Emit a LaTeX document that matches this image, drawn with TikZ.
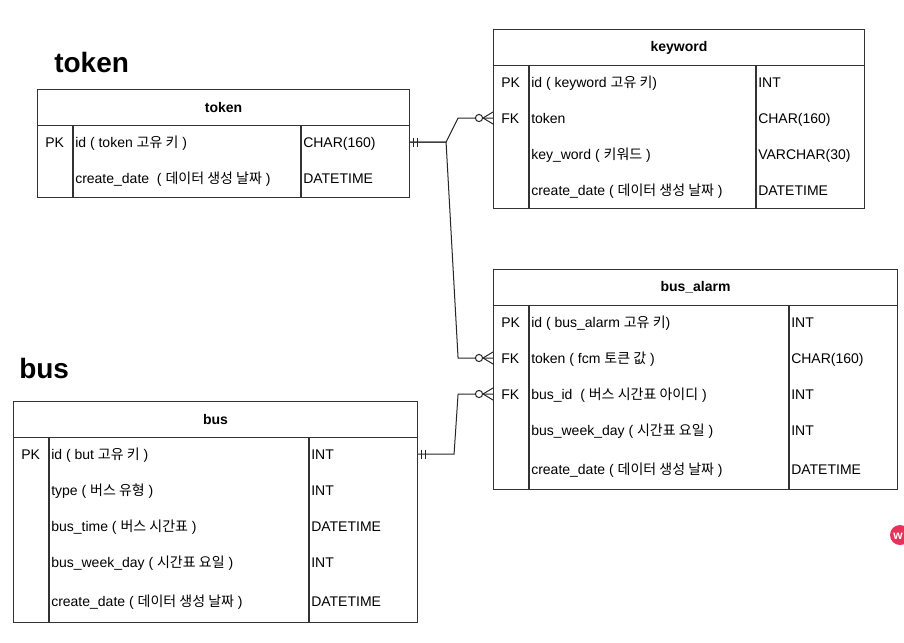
\documentclass[tikz,border=0pt]{standalone}
\usepackage{fontspec}
\setmainfont{Liberation Sans}
\newfontfamily\kr{Noto Sans CJK KR}
\definecolor{badgepink}{RGB}{232,49,91}
\tikzset{
  every node/.style={inner sep=0pt},
  cell/.style={anchor=west, text height=9pt, text depth=1.5pt,
    font=\fontsize{10.5}{12}\selectfont},
  tabhead/.style={draw=black!80, line width=0.8pt, anchor=north west,
    font=\fontsize{10.5}{12}\selectfont\bfseries},
  tabbody/.style={draw=black!80, line width=0.8pt, anchor=north west},
  colline/.style={draw=black!80, line width=0.8pt},
  title/.style={anchor=west, font=\fontsize{21}{24}\selectfont\bfseries},
  rel/.style={draw=black!85, line width=0.75pt},
  onemark/.pic={\draw[rel] (3,-4.5) -- (3,4.5) (7,-4.5) -- (7,4.5);},
  zeromany/.pic={\draw[rel] (-10,0) -- (0,-6) (-10,0) -- (0,6);
    \draw[rel, fill=white] (-14,0) circle[radius=2.7pt];}
}

\begin{document}
\begin{tikzpicture}[x=0.75pt, y=-0.75pt]
  \useasboundingbox (0,0) rectangle (904,643);
  \clip (0,0) rectangle (904,643);

  % token
  \node[title] (tokentitle) at (54,62) {token};
  \node[tabhead, minimum width=279pt, minimum height=27pt] (tokenhead) at (37,89) {token};
  \node[tabbody, minimum width=279pt, minimum height=54pt] (tokenbody) at (37,125) {};
  \draw[colline] (73,125) -- (73,197) (301,125) -- (301,197);
  \node[cell] (tokpk) at (45,142) {PK};
  \node[cell] (tokid) at (75,142) {id ( token {\kr 고유 키} )};
  \node[cell] (tokidtype) at (303,142) {CHAR(160)};
  \node[cell] (tokdate) at (75,178) {create\_date~ ( {\kr 데이터 생성 날짜} )};
  \node[cell] (tokdatetype) at (303,178) {DATETIME};

  % keyword
  \node[tabhead, minimum width=278.25pt, minimum height=27pt] (kwhead) at (493,29) {keyword};
  \node[tabbody, minimum width=278.25pt, minimum height=107.25pt] (kwbody) at (493,65) {};
  \draw[colline] (529,65) -- (529,208) (756,65) -- (756,208);
  \node[cell] (kwpk) at (501,82) {PK};
  \node[cell] (kwid) at (531,82) {id ( keyword {\kr 고유 키})};
  \node[cell] (kwidtype) at (758,82) {INT};
  \node[cell] (kwfk) at (501,118) {FK};
  \node[cell] (kwtoken) at (531,118) {token};
  \node[cell] (kwtokentype) at (758,118) {CHAR(160)};
  \node[cell] (kwword) at (531,154) {key\_word ( {\kr 키워드} )};
  \node[cell] (kwwordtype) at (758,154) {VARCHAR(30)};
  \node[cell] (kwdate) at (531,190) {create\_date ( {\kr 데이터 생성 날짜} )};
  \node[cell] (kwdatetype) at (758,190) {DATETIME};

  % bus_alarm
  \node[tabhead, minimum width=303pt, minimum height=27pt] (bahead) at (493,269) {bus\_alarm};
  \node[tabbody, minimum width=303pt, minimum height=138pt] (babody) at (493,305) {};
  \draw[colline] (529,305) -- (529,489) (789,305) -- (789,489);
  \node[cell] (bapk) at (501,322) {PK};
  \node[cell] (baid) at (531,322) {id ( bus\_alarm {\kr 고유 키})};
  \node[cell] (baidtype) at (791,322) {INT};
  \node[cell] (bafk1) at (501,358) {FK};
  \node[cell] (batoken) at (531,358) {token ( fcm {\kr 토큰 값} )};
  \node[cell] (batokentype) at (791,358) {CHAR(160)};
  \node[cell] (bafk2) at (501,394) {FK};
  \node[cell] (babusid) at (531,394) {bus\_id~ ( {\kr 버스 시간표 아이디} )};
  \node[cell] (babusidtype) at (791,394) {INT};
  \node[cell] (baday) at (531,430) {bus\_week\_day ( {\kr 시간표 요일} )};
  \node[cell] (badaytype) at (791,430) {INT};
  \node[cell] (badate) at (531,469) {create\_date ( {\kr 데이터 생성 날짜} )};
  \node[cell] (badatetype) at (791,469) {DATETIME};

  % bus
  \node[title] (bustitle) at (19,368) {bus};
  \node[tabhead, minimum width=303pt, minimum height=27pt] (bushead) at (13,401) {bus};
  \node[tabbody, minimum width=303pt, minimum height=138.75pt] (busbody) at (13,437) {};
  \draw[colline] (49,437) -- (49,622) (309,437) -- (309,622);
  \node[cell] (buspk) at (21,454) {PK};
  \node[cell] (busid) at (51,454) {id ( but {\kr 고유 키} )};
  \node[cell] (busidtype) at (311,454) {INT};
  \node[cell] (bustype) at (51,490) {type ( {\kr 버스 유형} )};
  \node[cell] (bustypetype) at (311,490) {INT};
  \node[cell] (bustime) at (51,526) {bus\_time ( {\kr 버스 시간표} )};
  \node[cell] (bustimetype) at (311,526) {DATETIME};
  \node[cell] (busday) at (51,562) {bus\_week\_day ( {\kr 시간표 요일} )};
  \node[cell] (busdaytype) at (311,562) {INT};
  \node[cell] (busdate) at (51,601) {create\_date ( {\kr 데이터 생성 날짜} )};
  \node[cell] (busdatetype) at (311,601) {DATETIME};

  % relations
  \draw[rel] (tokenbody.east |- tokid) -- ++(36,0) -- ++(12,-24) -- (kwbody.west |- kwtoken);
  \draw[rel] (tokenbody.east |- tokid) -- ++(36,0) -- ++(12,216) -- (babody.west |- batoken);
  \draw[rel] (busbody.east |- busid) -- ++(36,0) -- ++(4,-60) -- (babody.west |- babusid);
  \pic at (tokenbody.east |- tokid) {onemark};
  \pic at (busbody.east |- busid) {onemark};
  \pic at (kwbody.west |- kwtoken) {zeromany};
  \pic at (babody.west |- batoken) {zeromany};
  \pic at (babody.west |- babusid) {zeromany};

  % badge
  \fill[badgepink] (900,535) circle[radius=7.5pt];
  \node[anchor=west, text=white, font=\fontsize{9}{9}\selectfont\bfseries] (badge) at (893,536) {w};
\end{tikzpicture}
\end{document}
